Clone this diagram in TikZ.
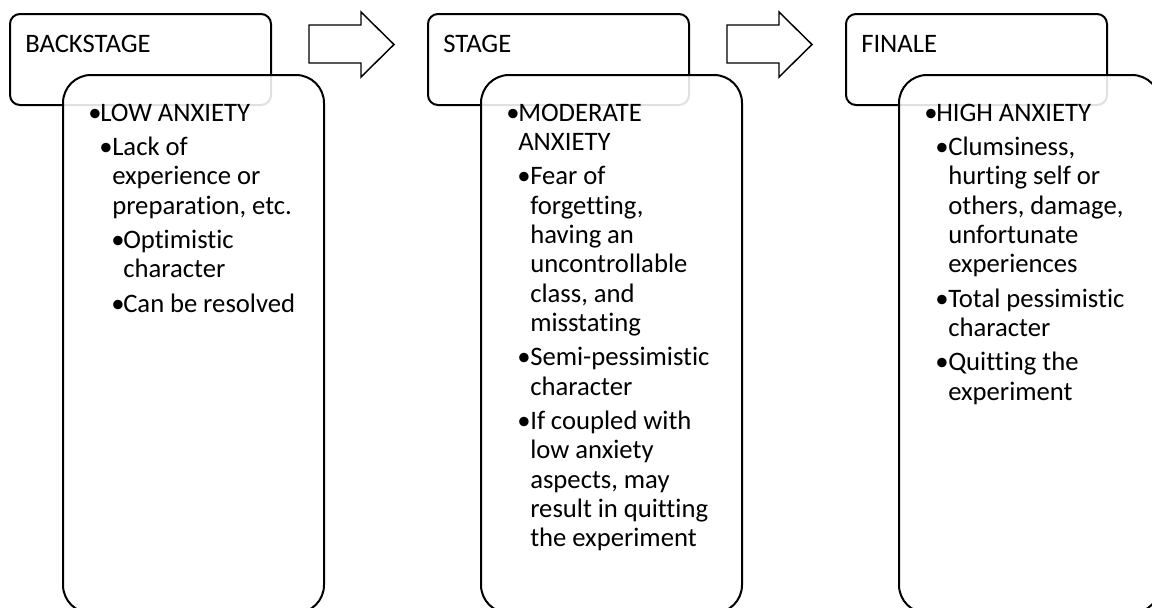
\documentclass[tikz,border=0pt]{standalone}
\usepackage{fontspec}
\setmainfont{Carlito}[Ligatures=NoCommon]
\usetikzlibrary{positioning}
\tikzset{
  kopfbox/.style={draw=black, line width=1.5pt, rounded corners=7.5pt, fill=white},
  rumpfbox/.style={draw=black, line width=1.5pt, rounded corners=21pt, fill=white, fill opacity=0.88},
  pfeilform/.style={draw=black, line width=1.1pt, fill=white, line join=miter},
  kopftext/.style={anchor=base west, inner sep=0pt, font=\fontsize{20}{22}\selectfont},
  rumpftext/.style={anchor=north west, inner sep=0pt, text width=195pt, font=\fontsize{20}{22}\selectfont}
}
% Aufzaehlung: Ebenen 1 bis 3 mit haengendem Einzug
\newcommand\punkt[3]{\spaceskip=0.22em\relax\rightskip=0pt plus 1fil\parfillskip=0pt plus 1fil\hangindent=#2\hangafter=1\noindent\hspace*{#1}\makebox[\dimexpr#2-#1\relax][l]{\textbullet}\strut#3\par\vspace{3.75pt}}
\newcommand\punktA[1]{\punkt{18.75pt}{27.75pt}{#1}}
\newcommand\punktB[1]{\punkt{27pt}{36.75pt}{#1}}
\newcommand\punktC[1]{\punkt{36pt}{45pt}{#1}}
\begin{document}
\begin{tikzpicture}[x=0.75pt,y=-0.75pt]
  \pgfmathsetmacro{\spalte}{418}
  \useasboundingbox (0,0) rectangle (1152,607);
%Kopf- und Rumpfkaesten, der Rumpf liegt halb durchsichtig ueber dem Kopf
\foreach \i in {0,1,2}{
  \draw[kopfbox] (10+\i*\spalte,14) rectangle ++(261,91);
}
\foreach \i in {0,1}{
  \draw[pfeilform,shift={(\i*\spalte,0)}] (309,25) -- (361,25) -- (361,12) -- (394,44.5) -- (361,77) -- (361,63) -- (309,63) -- cycle;
}
\foreach \i in {0,1,2}{
  \draw[rumpfbox] (63+\i*\spalte,75) rectangle ++(261,538);
}
  \node[kopftext] (backstage) at (25,52) {BACKSTAGE};
  \node[kopftext] (stage) at (25+\spalte,52) {STAGE};
  \node[kopftext] (finale) at (25+2*\spalte,52) {FINALE};
%Texte in den Rumpfkaesten
  \node[rumpftext] (niedrig) at (63,100.5) {%
    \punktA{LOW ANXIETY}
    \punktB{Lack of\newline experience or\newline preparation, etc.}
    \punktC{Optimistic\newline character}
    \punktC{Can be resolved}};
  \node[rumpftext] (mittel) at (63+\spalte,100.5) {%
    \punktA{MODERATE\newline ANXIETY}
    \punktB{Fear of\newline forgetting,\newline having an\newline uncontrollable\newline class, and\newline misstating}
    \punktB{Semi-pessimistic\newline character}
    \punktB{If coupled with\newline low anxiety\newline aspects, may\newline result in quitting\newline the experiment}};
  \node[rumpftext] (hoch) at (63+2*\spalte,100.5) {%
    \punktA{HIGH ANXIETY}
    \punktB{Clumsiness,\newline hurting self or\newline others, damage,\newline unfortunate\newline experiences}
    \punktB{Total pessimistic\newline character}
    \punktB{Quitting the\newline experiment}};
\end{tikzpicture}
\end{document}
